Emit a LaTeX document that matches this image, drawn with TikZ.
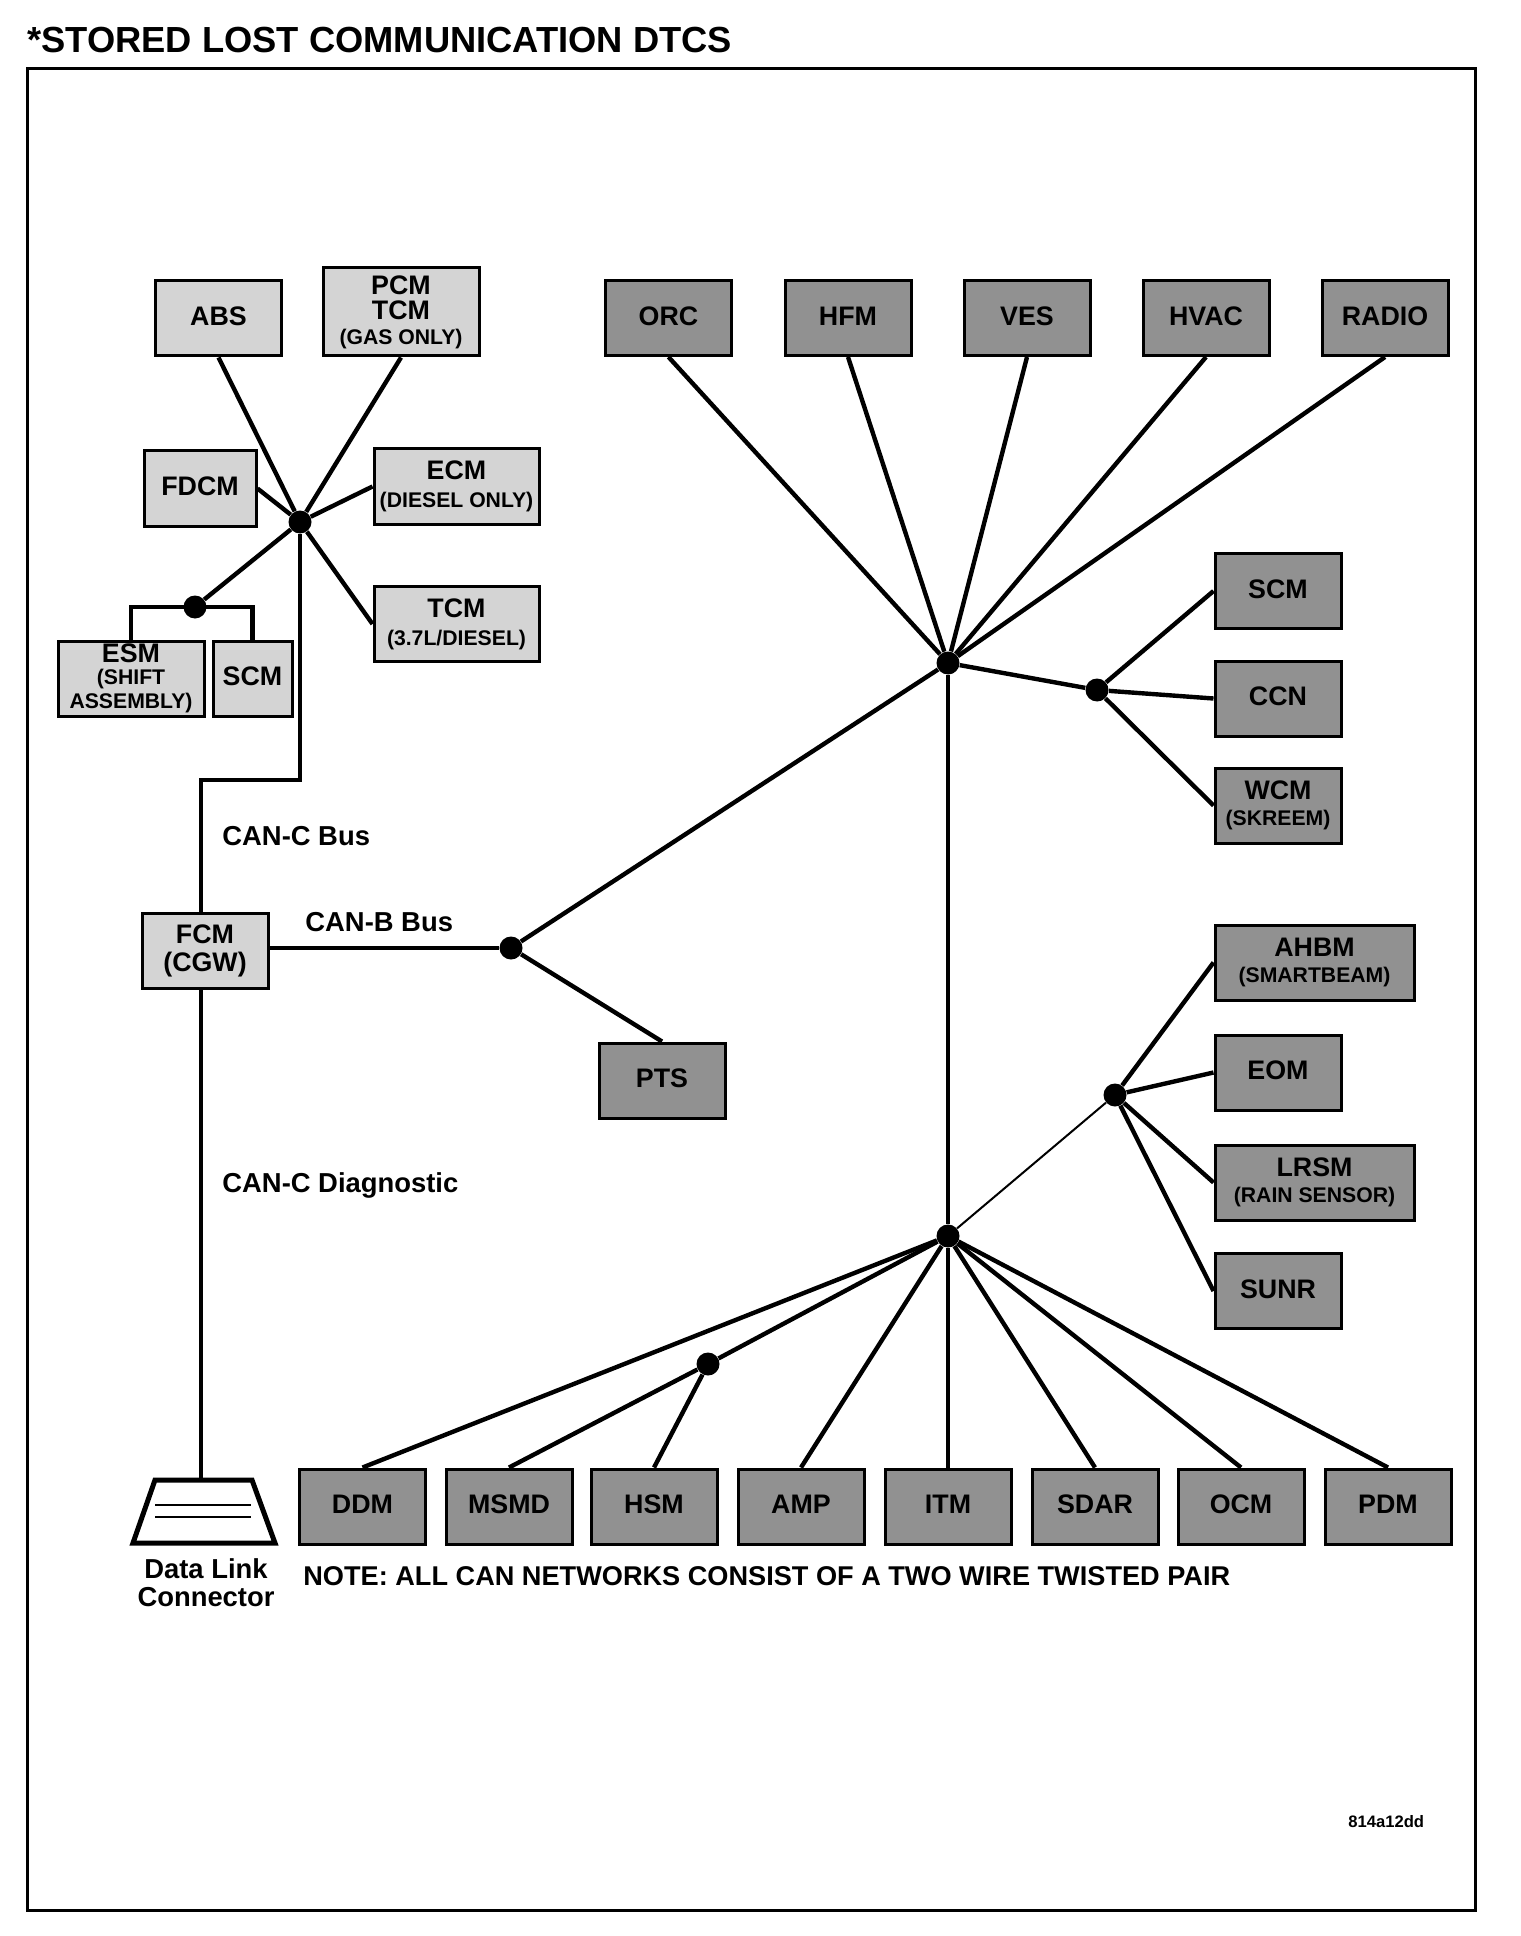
\documentclass[tikz,border=0pt]{standalone}
\usepackage{fontspec}
\setmainfont{Liberation Sans}
\definecolor{lightfill}{gray}{0.83}
\definecolor{darkfill}{gray}{0.57}
\newcommand{\bigtx}{\fontsize{13.4}{14}\selectfont\bfseries}
\newcommand{\smalltx}{\fontsize{10.6}{12}\selectfont\bfseries}
\tikzset{
  modbox/.style={draw=black,line width=1.5pt,rectangle,inner sep=0pt,align=center,minimum height=37.5pt,font=\bigtx},
  std/.style={modbox,minimum width=63pt},
  sg/.style={text depth=2pt},
  lt/.style={fill=lightfill},
  dk/.style={fill=darkfill},
  hub/.style={circle,fill=black,inner sep=0pt,minimum size=11.5pt},
  wire/.style={line width=2.2pt,draw=black},
  thinwire/.style={line width=1pt,draw=black},
  lab/.style={inner sep=0pt,anchor=west,font=\fontsize{13.7}{14}\selectfont\bfseries},
}
\begin{document}
\begin{tikzpicture}[x=0.5pt,y=-0.5pt]
\useasboundingbox (0,0) rectangle (1520,1936);
\fill[white] (0,0) rectangle (1520,1936);
\node[inner sep=0pt,anchor=west,font=\fontsize{18.15}{20}\selectfont\bfseries] (title) at (27,40) {*STORED LOST COMMUNICATION DTCS};
\draw[line width=1.5pt] (27,69) rectangle (1475,1910);
% left group
\node[std,sg,lt] (abs) at (218.5,318.5) {ABS};
\node[modbox,lt,minimum width=78pt,minimum height=44pt] (pcm) at (401,312) {PCM\\[-1.5pt]TCM\\[-1.5pt]{\smalltx (GAS ONLY)}};
\node[modbox,sg,lt,minimum width=56pt] (fdcm) at (200,488.5) {FDCM};
\node[modbox,lt,minimum width=82.5pt] (ecm) at (456.5,486.5) {ECM\\{\smalltx (DIESEL ONLY)}};
\node[modbox,lt,minimum width=82.5pt] (tcm) at (456.5,624) {TCM\\{\smalltx (3.7L/DIESEL)}};
\node[modbox,lt,minimum width=73pt] (esm) at (131,678.5) {ESM\\[-3pt]{\smalltx (SHIFT}\\[-2pt]{\smalltx ASSEMBLY)}};
\node[modbox,sg,lt,minimum width=39.5pt] (scml) at (252.5,678.5) {SCM};
\node[std,lt] (fcm) at (205,951) {FCM\\(CGW)};
% upper dark row
\node[std,sg,dk] (orc) at (668.5,318) {ORC};
\node[std,sg,dk] (hfm) at (848,318) {HFM};
\node[std,sg,dk] (ves) at (1027,318) {VES};
\node[std,sg,dk] (hvac) at (1206,318) {HVAC};
\node[std,sg,dk] (radio) at (1385,318) {RADIO};
% right column
\node[std,sg,dk] (scmr) at (1278,591) {SCM};
\node[std,sg,dk] (ccn) at (1278,698.5) {CCN};
\node[std,dk] (wcm) at (1278,805.5) {WCM\\[-1pt]{\smalltx (SKREEM)}};
\node[modbox,dk,minimum width=99.5pt] (ahbm) at (1314.5,962.5) {AHBM\\[-1pt]{\smalltx (SMARTBEAM)}};
\node[std,sg,dk] (eom) at (1278,1072.5) {EOM};
\node[modbox,dk,minimum width=99.5pt] (lrsm) at (1314.5,1182.5) {LRSM\\[-1pt]{\smalltx (RAIN SENSOR)}};
\node[std,sg,dk] (sunr) at (1278,1291) {SUNR};
\node[std,sg,dk] (pts) at (662,1080.5) {PTS};
% bottom row
\node[std,sg,dk] (ddm) at (362.5,1506.5) {DDM};
\node[std,sg,dk] (msmd) at (509,1506.5) {MSMD};
\node[std,sg,dk] (hsm) at (654,1506.5) {HSM};
\node[std,sg,dk] (amp) at (801,1506.5) {AMP};
\node[std,sg,dk] (itm) at (948,1506.5) {ITM};
\node[std,sg,dk] (sdar) at (1095,1506.5) {SDAR};
\node[std,sg,dk] (ocm) at (1241,1506.5) {OCM};
\node[std,sg,dk] (pdm) at (1388,1506.5) {PDM};
% data link connector
\coordinate (dlc) at (202,1480);
\draw[line width=2.5pt,line join=miter] (dlc -| 155,0) -- (dlc -| 252,0) -- (275,1543) -- (133,1543) -- cycle;
\draw[line width=0.6pt] (155,1505) -- (251,1505) (155,1517) -- (251,1517);
\node[inner sep=0pt,align=center,font=\fontsize{13.7}{14}\selectfont\bfseries] (dlctext) at (206,1583) {Data Link\\Connector};
% hubs
\node[hub] (h1) at (300,522) {};
\node[hub] (h2) at (195,607) {};
\node[hub] (hb) at (511,948) {};
\node[hub] (ha) at (948,663) {};
\node[hub] (hr) at (1097,690) {};
\node[hub] (hc) at (948,1236) {};
\node[hub] (hs) at (1115,1095) {};
\node[hub] (hm) at (708,1364) {};
\coordinate (busbend) at (201,780);
% wires
\draw[wire] (h1) -- (abs.south);
\draw[wire] (h1) -- (pcm.south);
\draw[wire] (h1) -- (fdcm.east);
\draw[wire] (h1) -- (ecm.west);
\draw[wire] (h1) -- (tcm.west);
\draw[wire] (h1) -- (h2);
\draw[wire] (h2.center) -| (esm.north);
\draw[wire] (h2.center) -| (scml.north);
\draw[wire] (h1) |- (busbend) -- (busbend |- fcm.north);
\draw[wire] (fcm.east |- hb) -- (hb);
\draw[wire] (hb) -- (ha);
\draw[wire] (hb) -- (pts.north);
\draw[wire] (busbend |- fcm.south) -- (busbend |- dlc);
\draw[wire] (ha) -- (orc.south);
\draw[wire] (ha) -- (hfm.south);
\draw[wire] (ha) -- (ves.south);
\draw[wire] (ha) -- (hvac.south);
\draw[wire] (ha) -- (radio.south);
\draw[wire] (ha) -- (hr);
\draw[wire] (hr) -- (scmr.west);
\draw[wire] (hr) -- (ccn.west);
\draw[wire] (hr) -- (wcm.west);
\draw[wire] (ha) -- (hc);
\draw[thinwire] (hc) -- (hs);
\draw[wire] (hs) -- (ahbm.west);
\draw[wire] (hs) -- (eom.west);
\draw[wire] (hs) -- (lrsm.west);
\draw[wire] (hs) -- (sunr.west);
\draw[wire] (hc) -- (ddm.north);
\draw[wire] (hc) -- (hm);
\draw[wire] (hm) -- (msmd.north);
\draw[wire] (hm) -- (hsm.north);
\draw[wire] (hc) -- (amp.north);
\draw[wire] (hc) -- (itm.north);
\draw[wire] (hc) -- (sdar.north);
\draw[wire] (hc) -- (ocm.north);
\draw[wire] (hc) -- (pdm.north);
% labels
\node[lab] (canc) at (222,836) {CAN-C Bus};
\node[lab] (canb) at (305,922) {CAN-B Bus};
\node[lab] (cand) at (222,1185) {CAN-C Diagnostic};
\node[lab,font=\fontsize{13.57}{14}\selectfont\bfseries] (note) at (303,1576) {NOTE: ALL CAN NETWORKS CONSIST OF A TWO WIRE TWISTED PAIR};
\node[inner sep=0pt,anchor=west,font=\fontsize{8.3}{9}\selectfont\bfseries] (code) at (1348,1822) {814a12dd};
\end{tikzpicture}
\end{document}
